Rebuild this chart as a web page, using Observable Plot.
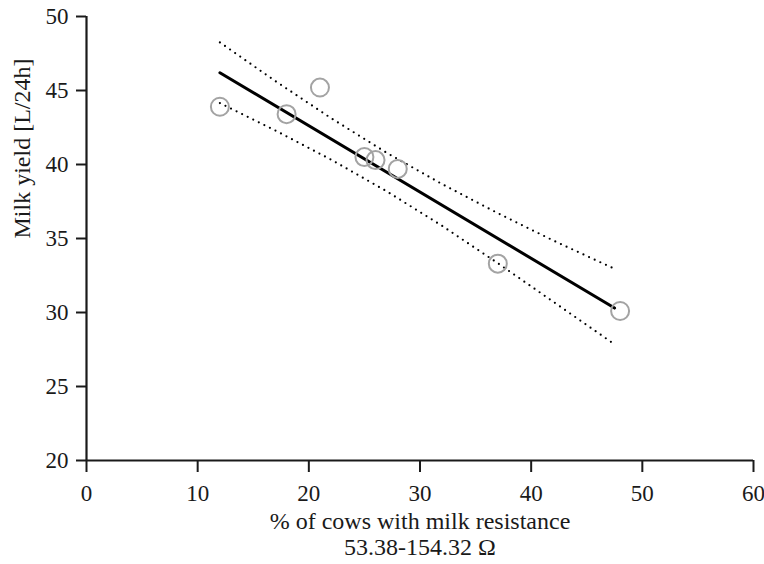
<!DOCTYPE html>
<html>
<head>
<meta charset="utf-8">
<script src="https://cdn.jsdelivr.net/npm/d3@7"></script>
<script src="https://cdn.jsdelivr.net/npm/@observablehq/plot@0.6"></script>
<style>
  html, body { margin: 0; padding: 0; background: #fff; }
  svg text { font-family: "Liberation Serif", "DejaVu Serif", serif; }
</style>
</head>
<body>
<div id="chart"></div>
<script>
// Observed points
const cowsPct = [12, 18, 21, 25, 26, 28, 37, 48];
const milkYield = [43.9, 43.4, 45.2, 40.5, 40.3, 39.7, 33.3, 30.1];

// Regression line (endpoints)
const fitX = [12, 47.5];
const fitY = [46.2, 30.3];

// Confidence band (dotted)
const bandX = [12, 17, 22, 27, 32, 37, 42, 47.5];
const bandUpper = [48.25, 45.63, 43.13, 40.79, 38.67, 36.71, 34.86, 32.95];
const bandLower = [44.15, 42.29, 40.33, 38.19, 35.85, 33.33, 30.72, 27.85];

const xTicks = [0, 10, 20, 30, 40, 50, 60];
const yTicks = [20, 25, 30, 35, 40, 45, 50];

const xTitleLines = ["% of cows with milk resistance", "53.38-154.32 \u03A9"];
const yTitle = "Milk yield [L/24h]";

const points = cowsPct.map((x, i) => ({x, y: milkYield[i]}));
const fit = fitX.map((x, i) => ({x, y: fitY[i]}));
const upper = bandX.map((x, i) => ({x, y: bandUpper[i]}));
const lower = bandX.map((x, i) => ({x, y: bandLower[i]}));

const ink = "#1a1a1a";
const font = "Liberation Serif";
const fsTick = 23;
const fsTitle = 24;

const chart = Plot.plot({
  width: 764,
  height: 564,
  marginLeft: 86,
  marginRight: 11,
  marginTop: 16,
  marginBottom: 104,
  style: "font-family: 'Liberation Serif', serif; font-size: 23px; color: #1a1a1a; background: #fff;",
  x: {domain: [0, 60]},
  y: {domain: [20, 50]},
  marks: [
    Plot.axisX({ticks: xTicks, tickSize: 12, tickPadding: 12, tickFormat: d => d, label: null, strokeWidth: 2, fontSize: fsTick, fontFamily: font}),
    Plot.axisY({ticks: yTicks, tickSize: 10, tickPadding: 8, tickFormat: d => d, label: null, strokeWidth: 2, fontSize: fsTick, fontFamily: font}),
    Plot.ruleX([0], {stroke: ink, strokeWidth: 2.2}),
    Plot.ruleY([20], {stroke: ink, strokeWidth: 2.2}),
    Plot.line(upper, {x: "x", y: "y", stroke: "#000", strokeWidth: 2.2, strokeDasharray: "0,6.2", strokeLinecap: "round"}),
    Plot.line(lower, {x: "x", y: "y", stroke: "#000", strokeWidth: 2.2, strokeDasharray: "0,6.2", strokeLinecap: "round"}),
    Plot.line(fit, {x: "x", y: "y", stroke: "#000", strokeWidth: 3}),
    Plot.dot(points, {x: "x", y: "y", r: 9, stroke: "#a3a3a3", strokeWidth: 2, fill: "none"}),
    Plot.text([xTitleLines[0]], {frameAnchor: "bottom", dy: 68, text: d => d, fontSize: fsTitle, fontFamily: font, fill: ink}),
    Plot.text([xTitleLines[1]], {frameAnchor: "bottom", dy: 94, text: d => d, fontSize: fsTitle, fontFamily: font, fill: ink}),
    Plot.text([yTitle], {frameAnchor: "left", dx: -64, rotate: -90, text: d => d, fontSize: fsTitle, fontFamily: font, fill: ink})
  ]
});
document.getElementById("chart").appendChild(chart);
</script>
</body>
</html>
